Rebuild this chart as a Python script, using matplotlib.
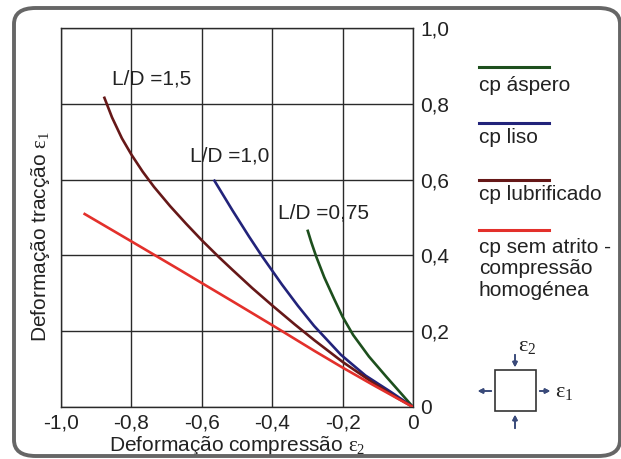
import matplotlib.pyplot as plt
from matplotlib.patches import FancyBboxPatch, Rectangle
import numpy as np

plt.rcParams['font.family'] = ['Liberation Sans', 'DejaVu Sans']
plt.rcParams['mathtext.fontset'] = 'custom'
plt.rcParams['mathtext.rm'] = 'Liberation Serif'
plt.rcParams['mathtext.it'] = 'Liberation Serif:italic'

# curvas (e2, e1)
aspero_x = [-0.300, -0.289, -0.275, -0.252, -0.224, -0.200, -0.170, -0.125, -0.075, -0.035, 0.0]
aspero_y = [0.468, 0.435, 0.397, 0.342, 0.285, 0.238, 0.190, 0.133, 0.079, 0.037, 0.0]

liso_x = [-0.566, -0.513, -0.466, -0.429, -0.373, -0.327, -0.281, -0.205, -0.135, -0.065, 0.0]
liso_y = [0.600, 0.519, 0.450, 0.398, 0.324, 0.267, 0.214, 0.138, 0.083, 0.041, 0.0]

lubr_x = [-0.878, -0.855, -0.827, -0.800, -0.768, -0.736, -0.690, -0.645, -0.600, -0.552,
          -0.513, -0.457, -0.400, -0.336, -0.280, -0.200, -0.115, -0.045, 0.0]
lubr_y = [0.819, 0.764, 0.709, 0.666, 0.621, 0.581, 0.530, 0.484, 0.440, 0.396,
          0.362, 0.314, 0.268, 0.218, 0.176, 0.119, 0.065, 0.024, 0.0]

semat_x = [-0.936, -0.800, -0.663, -0.609, -0.513, -0.400, -0.354, -0.280, -0.200, -0.115, -0.045, 0.0]
semat_y = [0.511, 0.437, 0.362, 0.332, 0.279, 0.216, 0.190, 0.148, 0.104, 0.059, 0.023, 0.0]

nomes = ['cp áspero', 'cp liso', 'cp lubrificado', 'cp sem atrito -\ncompressão\nhomogénea']
cores = ['#1d4f1d', '#22237a', '#661818', '#e3302b']
ld_textos = ['L/D =0,75', 'L/D =1,0', 'L/D =1,5']
ld_pos = [(-0.255, 0.513), (-0.521, 0.662), (-0.742, 0.866)]

xticks = [-1.0, -0.8, -0.6, -0.4, -0.2, 0.0]
xlabels = ['-1,0', '-0,8', '-0,6', '-0,4', '-0,2', '0']
yticks = [0.0, 0.2, 0.4, 0.6, 0.8, 1.0]
ylabels = ['0', '0,2', '0,4', '0,6', '0,8', '1,0']

fig = plt.figure(figsize=(6.21, 4.59), dpi=100)
W, H = 621, 459
fs = 15

# moldura arredondada (lados direito e de baixo quase fora da imagem)
moldura = FancyBboxPatch((14 / W, 3 / H), 606 / W, 448 / H,
                         boxstyle='round,pad=0,rounding_size=0.035',
                         transform=fig.transFigure, fill=False,
                         edgecolor='#666666', linewidth=2.8, zorder=0)
fig.patches.append(moldura)

ax = fig.add_axes([61 / W, 1 - 407 / H, 352 / W, 379 / H])

series = [(aspero_x, aspero_y), (liso_x, liso_y), (lubr_x, lubr_y), (semat_x, semat_y)]
for (xs, ys), c in zip(series, cores):
    ax.plot(xs, ys, color=c, linewidth=1.9, solid_capstyle='butt',
            solid_joinstyle='round', zorder=3)

for t, (tx, ty) in zip(ld_textos, ld_pos):
    ax.text(tx, ty, t, ha='center', va='center', fontsize=fs, color='#222222', zorder=4)

ax.set_xlim(-0.99, 0.0)
ax.set_ylim(0, 1.0)
ax.set_xticks(xticks)
ax.set_xticklabels(xlabels)
ax.set_yticks(yticks)
ax.set_yticklabels(ylabels)
ax.yaxis.tick_right()
ax.tick_params(length=0, labelsize=fs, colors='#222222', pad=5)
ax.grid(True, color='#2a2a2a', linewidth=1.0)
for s in ax.spines.values():
    s.set_color('#2a2a2a')
    s.set_linewidth(1.0)

ax.set_xlabel(r'Deformação compressão $\mathrm{ε}_2$', fontsize=fs, color='#222222', labelpad=1)
ax.set_ylabel(r'Deformação tracção $\mathrm{ε}_1$', fontsize=fs, color='#222222')
ax.yaxis.set_label_position('left')
ax.yaxis.set_label_coords(-0.025, 0.45)

# legenda manual
ly = [67, 123, 180, 230]
ty = [86, 138, 195, 248]
for c, n, y1, y2 in zip(cores, nomes, ly, ty):
    fig.add_artist(plt.Line2D([479 / W, 549 / W], [1 - y1 / H, 1 - y1 / H],
                              color=c, linewidth=2.2, transform=fig.transFigure))
    fig.text(479 / W, 1 - (y2 - 10) / H, n, fontsize=fs, color='#222222',
             ha='left', va='top', linespacing=1.15)

# esquema do provete
fig.add_artist(Rectangle((495 / W, 1 - 411 / H), 41 / W, 41 / H, fill=False,
                         edgecolor='#333333', linewidth=1.2, transform=fig.transFigure))
seta = dict(arrowstyle='-|>', color='#3a4a7a', lw=1.2, mutation_scale=7)
fig.add_artist(plt.annotate('', xy=(515 / W, 1 - 370 / H), xytext=(515 / W, 1 - 352 / H),
                            xycoords='figure fraction', arrowprops=seta))
fig.add_artist(plt.annotate('', xy=(515 / W, 1 - 412 / H), xytext=(515 / W, 1 - 431 / H),
                            xycoords='figure fraction', arrowprops=seta))
fig.add_artist(plt.annotate('', xy=(475 / W, 1 - 391 / H), xytext=(494 / W, 1 - 391 / H),
                            xycoords='figure fraction', arrowprops=seta))
fig.add_artist(plt.annotate('', xy=(553 / W, 1 - 391 / H), xytext=(537 / W, 1 - 391 / H),
                            xycoords='figure fraction', arrowprops=seta))
fig.text(518 / W, 1 - 345 / H, r'$\mathrm{ε}_2$', fontsize=16, ha='left', va='center', color='#222222')
fig.text(555 / W, 1 - 391 / H, r'$\mathrm{ε}_1$', fontsize=16, ha='left', va='center', color='#222222')

fig.savefig('out.png', dpi=100)
